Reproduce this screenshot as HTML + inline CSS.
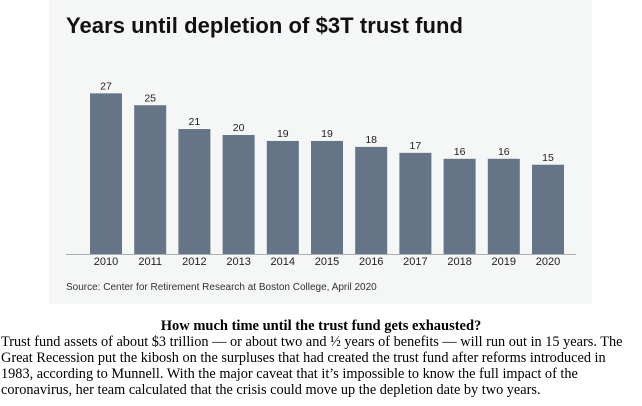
<!DOCTYPE html>
<html><head><meta charset="utf-8"><style>
body{margin:0;width:642px;height:406px;background:#fff;overflow:hidden;position:relative}
#panel{position:absolute;left:49px;top:0;width:543px;height:304px;background:#f5f6f6}
#cap{position:absolute;left:0;top:318px;width:642px;text-align:center;font:bold 14.5px "Liberation Serif",serif;color:#000;white-space:nowrap}
#para{position:absolute;left:1px;top:334px;width:641px;font:14.3px/16px "Liberation Serif",serif;color:#000;white-space:nowrap}
</style></head><body>
<div id="panel"></div>
<svg width="642" height="306" style="position:absolute;left:0;top:0">
<text x="66" y="33" font-family="Liberation Sans, sans-serif" font-size="22" font-weight="bold" fill="#111" textLength="397">Years until depletion of $3T trust fund</text>
<line x1="66" y1="254.5" x2="576" y2="254.5" stroke="#aab0b6" stroke-width="1"/>
<g id="bars"></g>
<text x="66" y="290" font-family="Liberation Sans, sans-serif" font-size="10" fill="#333">Source: Center for Retirement Research at Boston College, April 2020</text>
</svg>
<div id="cap">How much time until the trust fund gets exhausted?</div>
<div id="para">Trust fund assets of about $3 trillion — or about two and ½ years of benefits — will run out in 15 years. The<br>Great Recession put the kibosh on the surpluses that had created the trust fund after reforms introduced in<br>1983, according to Munnell. With the major caveat that it’s impossible to know the full impact of the<br>coronavirus, her team calculated that the crisis could move up the depletion date by two years.</div>
<script>
const years=["2010","2011","2012","2013","2014","2015","2016","2017","2018","2019","2020"];
const values=[27,25,21,20,19,19,18,17,16,16,15];
const NS="http://www.w3.org/2000/svg";
const g=document.getElementById('bars');
const base=254, unit=5.95, x0=90, step=44.2, bw=32;
function xs(i){return x0+i*step;}
function ys(v){return base-v*unit;}
years.forEach((y,i)=>{
  const v=values[i];
  const r=document.createElementNS(NS,'rect');
  r.setAttribute('x',xs(i));r.setAttribute('y',ys(v));r.setAttribute('width',bw);r.setAttribute('height',base-ys(v));r.setAttribute('fill','#657487');
  
  
  g.appendChild(r);
  const t=document.createElementNS(NS,'text');
  t.setAttribute('x',xs(i)+bw/2);t.setAttribute('y',ys(v)-4);t.setAttribute('text-anchor','middle');
  t.setAttribute('font-family','Liberation Sans, sans-serif');t.setAttribute('font-size','10.5');t.setAttribute('fill','#222');
  t.textContent=v;
  
  
  g.appendChild(t);
  const l=document.createElementNS(NS,'text');
  l.setAttribute('x',xs(i)+bw/2);l.setAttribute('y',265);l.setAttribute('text-anchor','middle');
  l.setAttribute('font-family','Liberation Sans, sans-serif');l.setAttribute('font-size','11');l.setAttribute('fill','#222');
  l.textContent=y;
  
  
  g.appendChild(l);
});
</script>
</body></html>
